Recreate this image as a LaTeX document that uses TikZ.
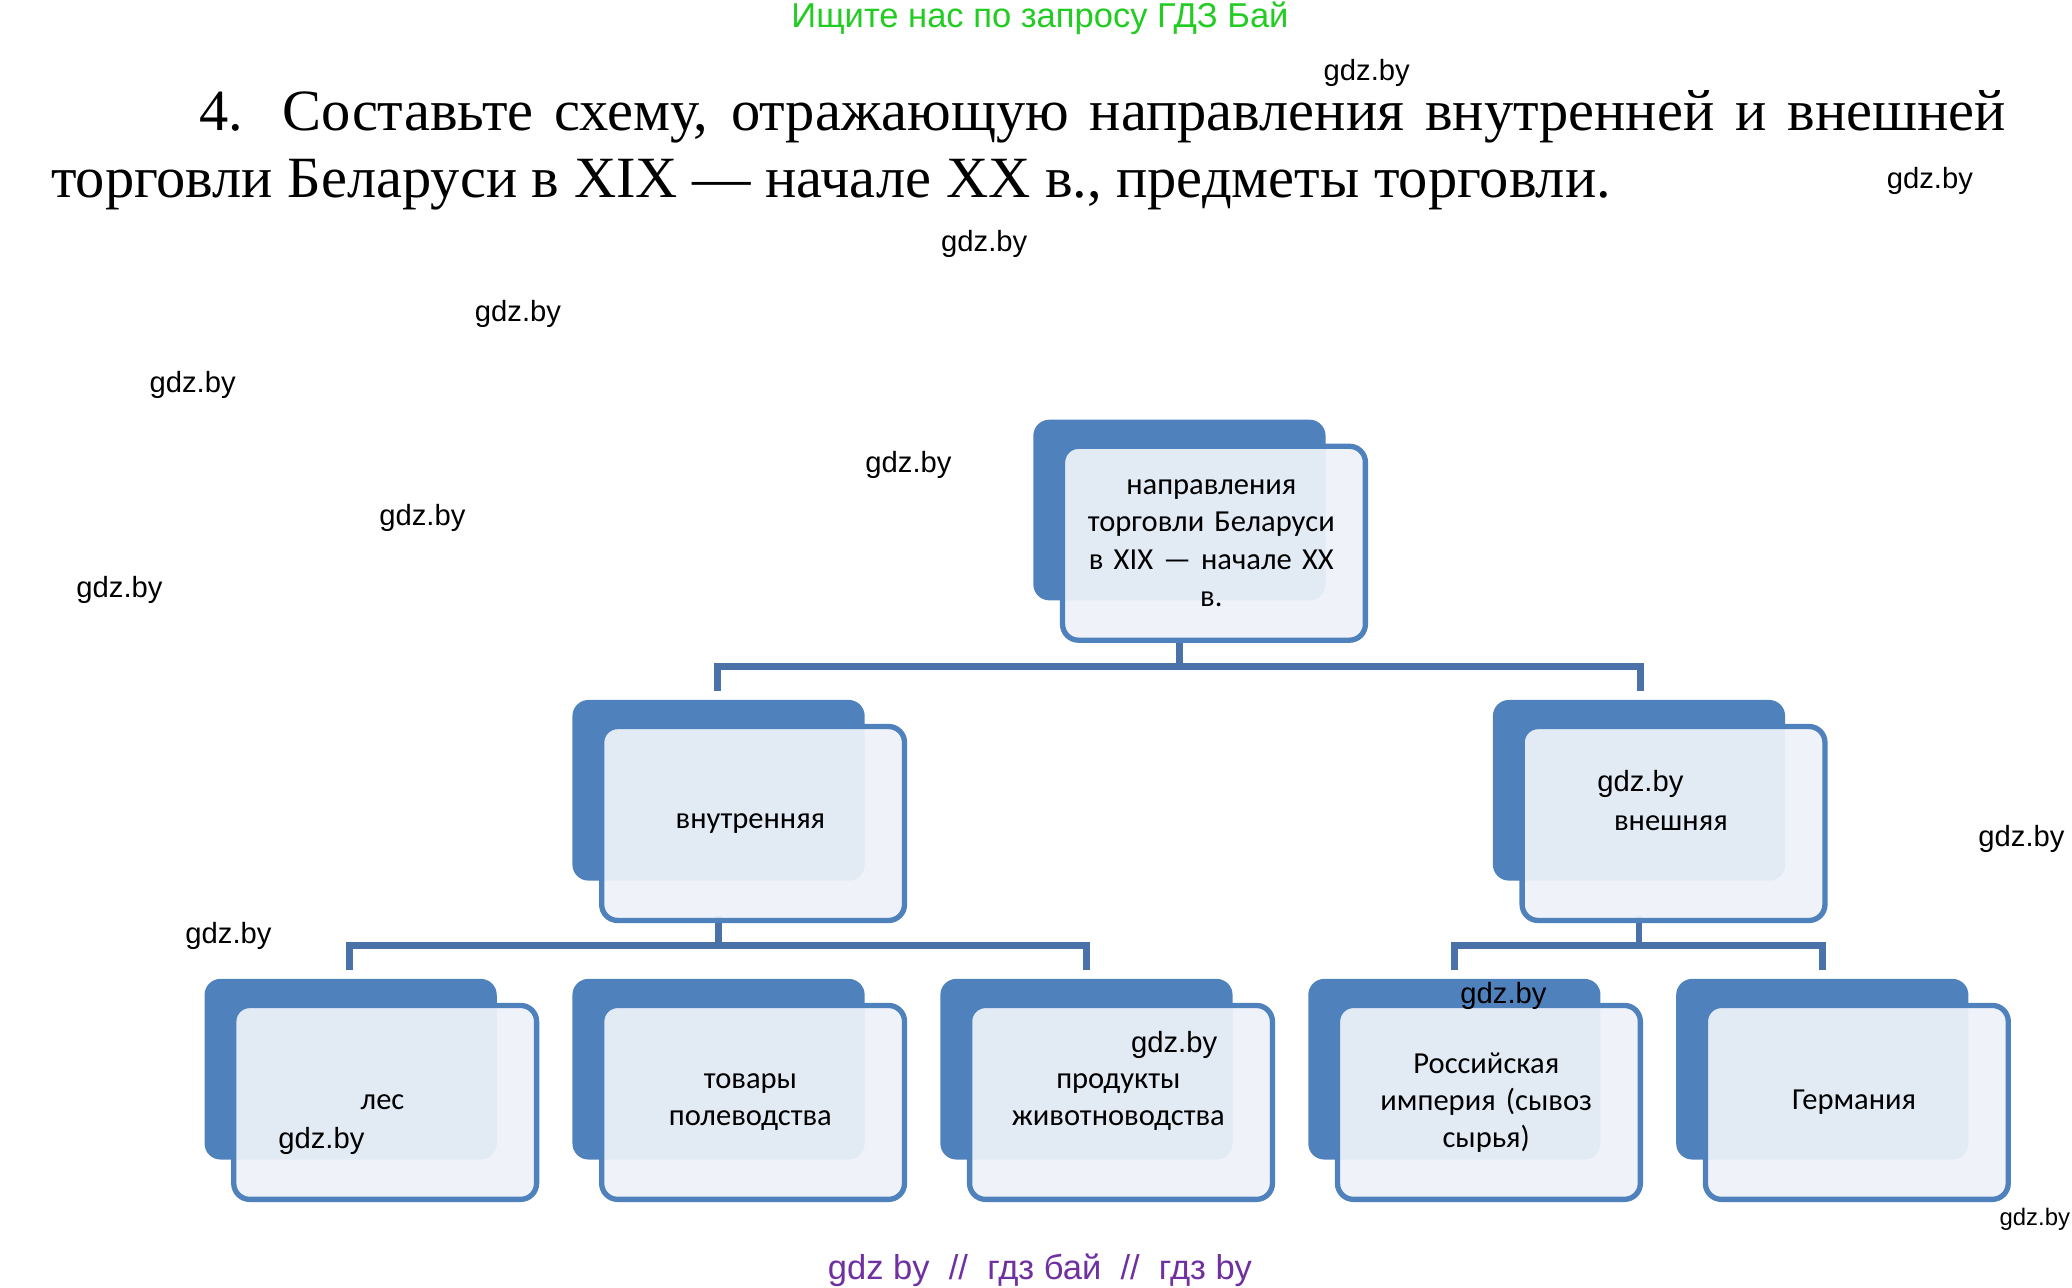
\documentclass[tikz,border=0pt]{standalone}
\usepackage{fontspec}
\setmainfont{Liberation Serif}
\newfontfamily\boxfont{Carlito}
\newfontfamily\markfont{Liberation Sans}
\definecolor{accblue}{HTML}{4F81BD}
\definecolor{linkblue}{HTML}{4A72A8}
\definecolor{paleblue}{HTML}{EEF2F9}
\definecolor{adgreen}{HTML}{22CC22}
\definecolor{adpurple}{HTML}{7030A0}
\tikzset{
  back/.style = {fill=accblue, rounded corners=6pt},
  front/.style = {draw=accblue, line width=2pt, fill=paleblue, fill opacity=0.93, rounded corners=6pt},
  boxtext/.style = {font=\boxfont\fontsize{11.5}{14}\selectfont, text width=108pt, align=center, inner sep=0pt},
  link/.style = {draw=linkblue, line width=2.6pt},
  wmark/.style = {font=\markfont\fontsize{11}{13}\selectfont, inner sep=0pt}
}
% x y = top left of the dark back plate
\newcommand{\tbox}[4]{%
  \fill[back] (#2,#3) rectangle ++(220,136);
  \draw[front] (#2+22,#3+20) rectangle ++(228,146);
  \node[boxtext] (#1) at (#2+134,#3+93) {#4};
}
\begin{document}
\begin{tikzpicture}[x=0.5pt, y=-0.5pt]
  \useasboundingbox (0,0) rectangle (1560,969);
  \node[font=\markfont\fontsize{13}{15}\selectfont, text=adgreen] (ad) at (783,14) {Ищите нас по запросу ГДЗ Бай};
  \node[anchor=north west, inner sep=0pt, text width=736pt, align=justify,
        font=\fontsize{22}{25}\selectfont] (title) at (38,68)
    {\hspace*{56pt}4. Составьте схему, отражающую направления внутренней и внешней\linebreak
     торговли Беларуси в XIX — начале XX в., предметы торговли.};

  % connectors first, boxes over them
  \draw[link] (888,482) -- (888,502);
  \draw[link] (540,520) |- (1235,502) -- (1235,520);
  \draw[link] (541,690) -- (541,712);
  \draw[link] (263,730) |- (818,712) -- (818,730);
  \draw[link] (1234,690) -- (1234,712);
  \draw[link] (1095,730) |- (1372,712) -- (1372,730);

  \tbox{top}{778}{316}{направления\\ торговли Беларуси\\ в XIX — начале XX\\ в.}
  \tbox{inner}{431}{527}{внутренняя}
  \tbox{outer}{1124}{527}{внешняя}
  \tbox{wood}{154}{737}{лес}
  \tbox{crop}{431}{737}{товары\\ полеводства}
  \tbox{stock}{708}{737}{продукты\\ животноводства}
  \tbox{russia}{985}{737}{Российская\\ империя (сывоз\\ сырья)}
  \tbox{germany}{1262}{737}{Германия}

  % watermarks
  \foreach \x/\y [count=\i] in {1029/55, 1453/136, 741/184, 390/236, 145/290, 684/350,
      318/390, 90/444, 1522/632, 172/705, 1132/750, 884/787, 242/859, 1235/590}
    \node[wmark] (m\i) at (\x,\y) {gdz.by};
  \node[wmark, font=\markfont\fontsize{9}{11}\selectfont] (m15) at (1532,918) {gdz.by};
  \node[font=\markfont\fontsize{13}{15}\selectfont, text=adpurple] (foot) at (783,956) {gdz by \ // \ гдз бай \ // \ гдз by};
\end{tikzpicture}
\end{document}
